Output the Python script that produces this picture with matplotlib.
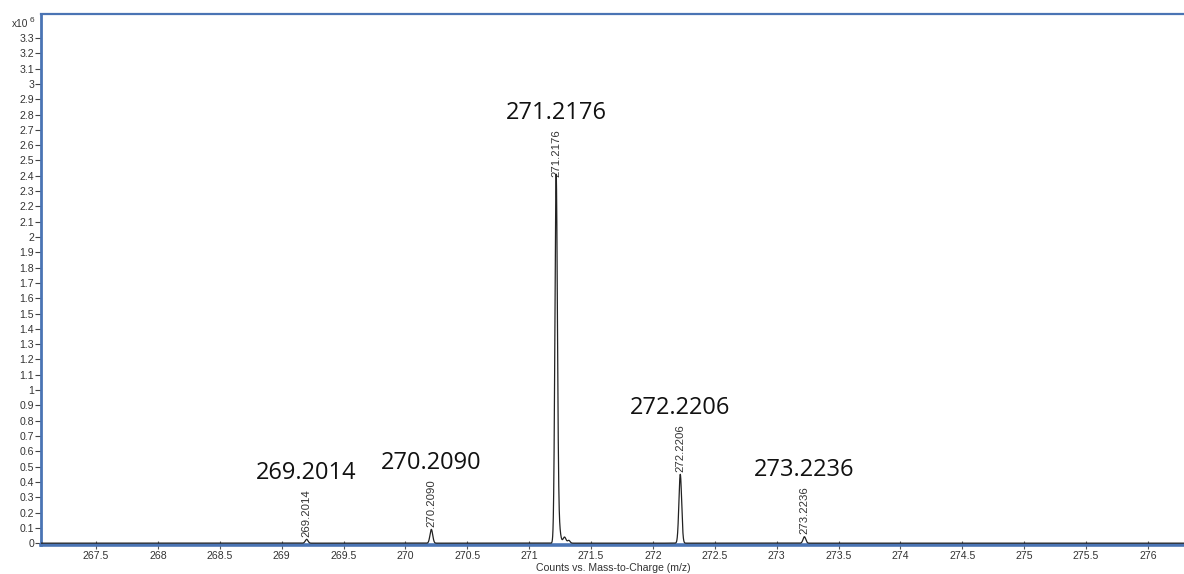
import numpy as np
import matplotlib
matplotlib.use("Agg")
import matplotlib.pyplot as plt

# Peak centroids (m/z) and apex intensities (x10^6 counts)
peak_mz = [269.2014, 270.2090, 271.2176, 272.2206, 273.2236]
peak_height = [0.025, 0.09, 2.375, 0.45, 0.042]
peak_labels = ["269.2014", "270.2090", "271.2176", "272.2206", "273.2236"]
peak_sigma = [0.011, 0.011, 0.010, 0.011, 0.011]

# Tailing shoulder on the base peak: (m/z, height, sigma)
tail_mz = [271.238, 271.285, 271.32]
tail_height = [0.12, 0.04, 0.018]
tail_sigma = [0.013, 0.012, 0.010]

x_ticks = [267.5, 268, 268.5, 269, 269.5, 270, 270.5, 271, 271.5, 272,
           272.5, 273, 273.5, 274, 274.5, 275, 275.5, 276]
y_ticks = [round(0.1 * i, 1) for i in range(34)]

mz = np.linspace(267.0, 276.4, 40000)
signal = np.zeros_like(mz)
for c, h, s in zip(peak_mz + tail_mz, peak_height + tail_height, peak_sigma + tail_sigma):
    signal += h * np.exp(-0.5 * ((mz - c) / s) ** 2)

fig = plt.figure(figsize=(11.84, 5.74), dpi=100)
ax = fig.add_axes([41 / 1184, 29 / 574, 1 - 41 / 1184 + 0.002, 531 / 574])

ax.plot(mz, signal, color="#222222", lw=0.9, zorder=4)

ax.set_xlim(267.055, 276.31)
ax.set_ylim(-0.012, 3.457)

frame = "#4a74b4"
for side in ("left", "top", "bottom"):
    ax.spines[side].set_color(frame)
ax.spines["left"].set_linewidth(2.0)
ax.spines["top"].set_linewidth(1.6)
ax.spines["bottom"].set_linewidth(2.6)
ax.spines["right"].set_visible(False)

tick_font = dict(family="Liberation Sans", size=7.6, color="#333333")
ax.set_xticks(x_ticks)
ax.set_xticklabels([("%g" % t) for t in x_ticks], **tick_font)
ax.set_yticks(y_ticks)
ax.set_yticklabels([("%g" % t) for t in y_ticks], **tick_font)
ax.tick_params(axis="x", direction="inout", length=6, width=0.8, color="#555555", pad=1)
ax.tick_params(axis="y", direction="out", length=4, width=0.8, color="#444444", pad=1)

ax.set_xlabel("Counts vs. Mass-to-Charge (m/z)", family="Liberation Sans",
              size=7.6, color="#333333", labelpad=2)
fig.text(12 / 1184, 1 - 27 / 574, "x10", family="Liberation Sans", size=7.3,
         color="#333333", va="baseline")
fig.text(30 / 1184, 1 - 22 / 574, "6", family="Liberation Sans", size=6,
         color="#333333", va="baseline")

for c, h, lab in zip(peak_mz, peak_height, peak_labels):
    ax.annotate(lab, xy=(c, h), xytext=(0, 2), textcoords="offset points",
                rotation=90, ha="center", va="bottom", family="Liberation Sans",
                size=8.2, color="#333333")
    ax.annotate(lab, xy=(c, h), xytext=(0, 48), textcoords="offset points",
                ha="center", va="center", family="Open Sans", size=17,
                color="#111111")

fig.savefig("out.png", dpi=100)
